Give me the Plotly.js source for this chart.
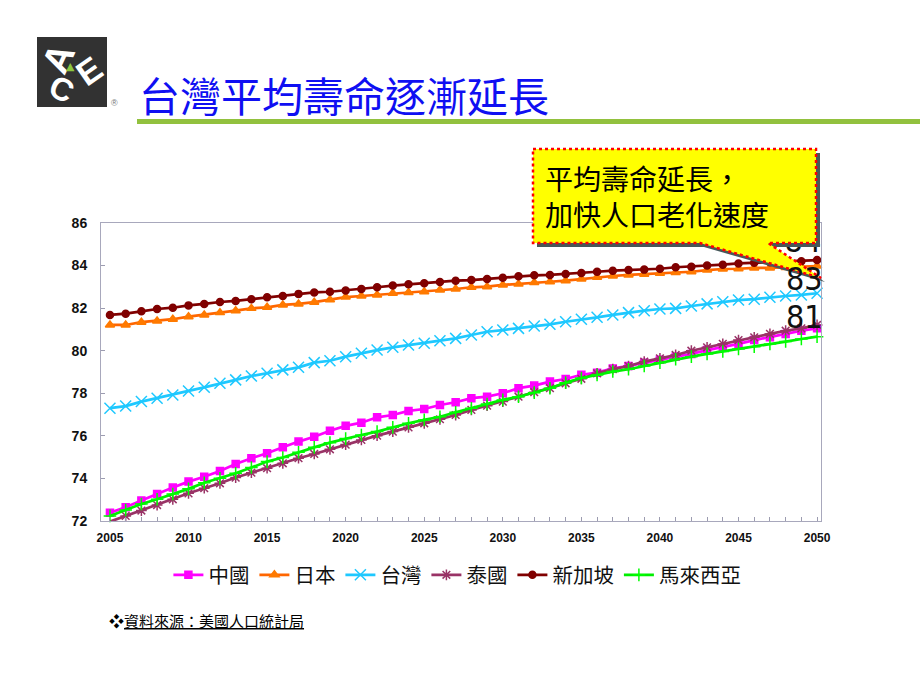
<!DOCTYPE html>
<html>
<head>
<meta charset="utf-8">
<script src="https://cdn.plot.ly/plotly-3.0.1.min.js"></script>
<style>
html,body{margin:0;padding:0;background:#fff;}
#chart{width:920px;height:690px;}
</style>
</head>
<body>
<div id="chart"></div>
<script>
// ---------------- DATA ----------------
const years = [2005,2006,2007,2008,2009,2010,2011,2012,2013,2014,2015,2016,2017,2018,2019,2020,
  2021,2022,2023,2024,2025,2026,2027,2028,2029,2030,2031,2032,2033,2034,2035,
  2036,2037,2038,2039,2040,2041,2042,2043,2044,2045,2046,2047,2048,2049,2050];

const seriesNames = ["中國","日本","台灣","泰國","新加坡","馬來西亞"];

const china = [72.39,72.65,72.96,73.27,73.57,73.85,74.08,74.35,74.68,74.95,75.18,75.46,75.73,75.96,76.24,76.47,
  76.62,76.87,76.98,77.17,77.26,77.45,77.58,77.77,77.84,78.00,78.24,78.36,78.55,78.67,78.87,
  78.97,79.17,79.28,79.44,79.57,79.72,79.85,80.03,80.16,80.32,80.50,80.63,80.79,80.94,81.05];

const japan = [81.21,81.21,81.34,81.40,81.48,81.60,81.68,81.79,81.88,81.99,82.04,82.15,82.20,82.28,82.40,82.52,
  82.57,82.62,82.70,82.74,82.77,82.85,82.90,82.98,83.01,83.09,83.13,83.20,83.24,83.29,83.37,
  83.45,83.51,83.56,83.59,83.64,83.68,83.71,83.79,83.84,83.85,83.89,83.89,83.91,83.93,83.98];

const taiwan = [77.30,77.40,77.61,77.77,77.92,78.11,78.28,78.47,78.63,78.81,78.94,79.10,79.22,79.44,79.53,79.72,
  79.88,80.03,80.16,80.27,80.35,80.47,80.58,80.74,80.89,80.97,81.05,81.16,81.24,81.36,81.48,
  81.57,81.68,81.79,81.88,81.96,81.99,82.10,82.20,82.30,82.38,82.42,82.51,82.57,82.62,82.70];

const thailand = [71.97,72.24,72.49,72.75,73.02,73.30,73.54,73.77,74.04,74.27,74.48,74.71,74.95,75.15,75.37,75.59,
  75.81,76.01,76.20,76.40,76.59,76.78,76.98,77.22,77.42,77.61,77.84,78.05,78.24,78.47,78.68,
  78.94,79.13,79.28,79.49,79.64,79.80,80.00,80.16,80.32,80.50,80.63,80.79,80.94,81.05,81.21];

const singapore = [81.68,81.74,81.85,81.96,82.02,82.13,82.20,82.29,82.34,82.42,82.51,82.57,82.67,82.74,82.77,82.83,
  82.90,82.98,83.06,83.12,83.17,83.23,83.29,83.32,83.37,83.43,83.50,83.54,83.56,83.60,83.65,
  83.71,83.76,83.79,83.81,83.85,83.92,83.95,84.00,84.04,84.10,84.13,84.16,84.18,84.20,84.26];

const malaysia = [72.24,72.52,72.80,73.02,73.27,73.51,73.80,74.01,74.24,74.51,74.79,74.98,75.23,75.46,75.68,75.87,
  76.04,76.20,76.40,76.59,76.75,76.90,77.11,77.30,77.50,77.69,77.84,78.03,78.24,78.50,78.72,
  78.86,79.02,79.13,79.28,79.44,79.60,79.72,79.85,79.96,80.08,80.19,80.32,80.43,80.55,80.66];

// end-of-line value labels
const endLabelText = ["84","83","81"];
const endLabelX = [2049.1,2049.2,2049.2];
const endLabelY = [85.0,83.37,81.58];

const titleText = "台灣平均壽命逐漸延長";
const calloutLines = ["平均壽命延長，","加快人口老化速度"];
const sourceText = "資料來源：美國人口統計局";

// ---------------- STYLE ----------------
const CJK = "'Noto Sans CJK TC','Noto Sans CJK SC',sans-serif";
const ARIAL = "Arial,'Liberation Sans',sans-serif";
const NARROW = "'Liberation Sans Narrow','Arial Narrow','DejaVu Sans Condensed',sans-serif";

const L = 101, R = 821, T = 223, B = 521;
const PX = px => (px - L) / (R - L);
const PY = py => (B - py) / (B - T);
function pathPx(pts){
  return pts.map((p,i)=> (i===0?'M':'L') + PX(p[0]).toFixed(5) + ',' + PY(p[1]).toFixed(5)).join(' ') + ' Z';
}

function mk(name, y, color, lineColor, symbol, size){
  return {
    type:'scatter', mode:'lines+markers', name:name, x:years, y:y,
    line:{color:lineColor, width:2.7},
    marker:{color:color, symbol:symbol, size:size, line:{color:color, width:1.5}},
    cliponaxis:false
  };
}

const traces = [
  mk(seriesNames[0], china, '#FF00FF', '#FF00FF', 'square', 7),
  mk(seriesNames[1], japan, '#FF7A00', '#FF6600', 'triangle-up', 8),
  mk(seriesNames[2], taiwan, '#1EC8FF', '#1EC8FF', 'x-thin-open', 11),
  mk(seriesNames[3], thailand, '#993366', '#993366', 'asterisk-open', 9),
  mk(seriesNames[4], singapore, '#800000', '#800000', 'circle', 7),
  mk(seriesNames[5], malaysia, '#00FF00', '#00EE00', 'cross-thin-open', 9),
  // "84" sits behind the callout (drawn in the plot layer)
  {type:'scatter', mode:'text', x:endLabelX.slice(0,1), y:endLabelY.slice(0,1), text:endLabelText.slice(0,1),
   textposition:'middle center', showlegend:false, cliponaxis:false, hoverinfo:'skip',
   textfont:{family:NARROW, size:32, color:'#111'}}
];

// callout geometry (pixels)
const callout = [[533,149],[816,149],[816,243],[768,243],[821,278],[700,243],[533,243]];
const shadow = callout.map(p=>[p[0]+4,p[1]+4]);

const shapes = [
  // logo square
  {type:'rect', xref:'paper', yref:'paper', x0:PX(37), x1:PX(107), y0:PY(107), y1:PY(37),
   fillcolor:'#323232', line:{width:0}, layer:'above'},
  // green rule under title
  {type:'line', xref:'paper', yref:'paper', x0:PX(137), x1:PX(920), y0:PY(121.5), y1:PY(121.5),
   line:{color:'#92C13E', width:5}, layer:'above'},
  // callout shadow and body
  {type:'path', xref:'paper', yref:'paper', path:pathPx(shadow), fillcolor:'#46585A',
   line:{width:0}, layer:'above'},
  {type:'path', xref:'paper', yref:'paper', path:pathPx(callout), fillcolor:'#FFFF00',
   line:{color:'#FF0000', width:2.5, dash:'dot'}, layer:'above'}
];

function pa(x, y, text, font, extra){
  return Object.assign({xref:'paper', yref:'paper', x:PX(x), y:PY(y), xanchor:'center', yanchor:'middle',
    showarrow:false, text:text, font:font}, extra||{});
}

const annotations = [
  pa(137, 94, titleText, {family:CJK, size:41, color:'#0F0FF2'}, {xanchor:'left'}),
  pa(543, 196, calloutLines.join('<br>'), {family:CJK, size:28, color:'#000'}, {xanchor:'left', align:'left'}),
  pa(107, 620, '❖<u>' + sourceText + '</u>', {family:CJK, size:15, color:'#000'}, {xanchor:'left'}),
  // logo letters
  pa(58, 59, '<b>A</b>', {family:ARIAL, size:38, color:'#fff'}, {textangle:-65}),
  pa(89, 71, '<b>E</b>', {family:ARIAL, size:34, color:'#fff'}, {textangle:-35}),
  pa(61, 89, '<b>C</b>', {family:ARIAL, size:32, color:'#fff'}, {textangle:25}),
  pa(70, 66, '▲', {family:"'DejaVu Sans',sans-serif", size:11, color:'#8CC63F'}),
  pa(114, 103, '®', {family:ARIAL, size:9, color:'#777'}),
  // "83" and "81" labels on top
  {xref:'x', yref:'y', x:endLabelX[1], y:endLabelY[1], text:endLabelText[1], showarrow:false,
   xanchor:'center', yanchor:'middle', font:{family:NARROW, size:32, color:'#111'}},
  {xref:'x', yref:'y', x:endLabelX[2], y:endLabelY[2], text:endLabelText[2], showarrow:false,
   xanchor:'center', yanchor:'middle', font:{family:NARROW, size:32, color:'#111'}}
];

const layout = {
  width:920, height:690,
  margin:{l:L, r:920-R, t:T, b:690-B, pad:0},
  paper_bgcolor:'#fff', plot_bgcolor:'#fff',
  showlegend:true,
  legend:{orientation:'h', x:0.495, xanchor:'center', y:PY(575), yanchor:'middle',
    font:{family:CJK, size:20.5, color:'#111'}, itemwidth:30, tracegroupgap:0},
  xaxis:{range:[2004.43,2050.25], tick0:2005, dtick:5, ticks:'inside', ticklen:4, tickcolor:'#9C9CB0',
    showgrid:false, zeroline:false, showline:true, mirror:true, linecolor:'#A8A8BC', linewidth:1,
    tickfont:{family:ARIAL, size:12, color:'#111', weight:'bold'}, ticklabelstandoff:6,
    minor:{dtick:1, ticks:'inside', ticklen:4, tickcolor:'#9C9CB0', showgrid:false}},
  yaxis:{range:[72,86], dtick:2, ticks:'inside', ticklen:4, tickcolor:'#9C9CB0',
    showgrid:false, zeroline:false, showline:true, mirror:true, linecolor:'#A8A8BC', linewidth:1,
    tickfont:{family:ARIAL, size:14, color:'#111', weight:'bold'}, ticklabelstandoff:10},
  shapes:shapes,
  annotations:annotations,
  hovermode:false
};

Plotly.newPlot('chart', traces, layout, {staticPlot:true, displayModeBar:false});
</script>
</body>
</html>
